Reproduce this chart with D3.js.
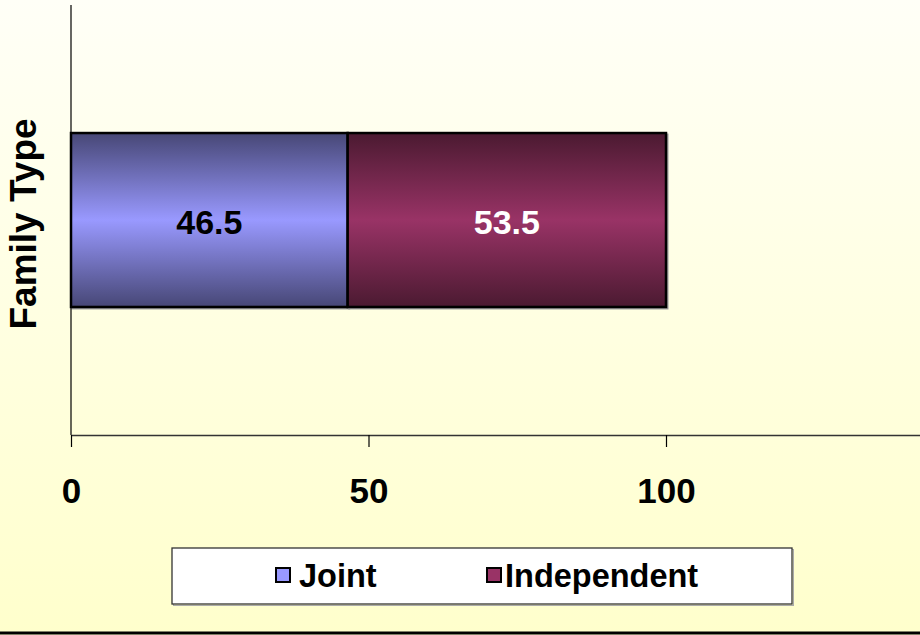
<!DOCTYPE html>
<html>
<head>
<meta charset="utf-8">
<script src="https://cdn.jsdelivr.net/npm/d3@7"></script>
<style>
  html, body { margin: 0; padding: 0; background: #fff; }
  svg { display: block; }
  text { font-family: "Liberation Sans", Arial, sans-serif; font-weight: bold; }
</style>
</head>
<body>
<svg id="chart" width="920" height="635"></svg>
<script>
// ---- data ----
const categories = ["Family Type"];
const seriesNames = ["Joint", "Independent"];
const jointValues = [46.5];
const independentValues = [53.5];
const xTicks = [0, 50, 100];
const xMax = 150;

const seriesColors = {
  Joint: { edge: "#474776", mid: "#9999ff", label: "#000000" },
  Independent: { edge: "#4b1a31", mid: "#993366", label: "#ffffff" }
};

const svg = d3.select("#chart");
const W = 920, H = 635;
const defs = svg.append("defs");

// background gradient
const bg = defs.append("linearGradient").attr("id", "bg")
  .attr("x1", 0).attr("y1", 0).attr("x2", 0).attr("y2", 1);
bg.append("stop").attr("offset", "0%").attr("stop-color", "#fffff7");
bg.append("stop").attr("offset", "100%").attr("stop-color", "#ffffcc");
svg.append("rect").attr("width", W).attr("height", H).attr("fill", "url(#bg)");

// bar gradients
seriesNames.forEach(s => {
  const g = defs.append("linearGradient").attr("id", "g_" + s)
    .attr("x1", 0).attr("y1", 0).attr("x2", 0).attr("y2", 1);
  g.append("stop").attr("offset", "0%").attr("stop-color", seriesColors[s].edge);
  g.append("stop").attr("offset", "50%").attr("stop-color", seriesColors[s].mid);
  g.append("stop").attr("offset", "100%").attr("stop-color", seriesColors[s].edge);
});

const plot = { left: 71, top: 5, bottom: 435 };
const x = d3.scaleLinear().domain([0, xMax]).range([plot.left, plot.left + (666 - 71) * 1.5]);
const y = d3.scaleBand().domain(categories).range([plot.top, plot.bottom])
  .paddingInner(0).paddingOuter(0.736);

// stacked data
const rows = categories.map((c, i) => ({ cat: c, Joint: jointValues[i], Independent: independentValues[i] }));
const stack = d3.stack().keys(seriesNames)(rows);

// bars
const layers = svg.append("g").selectAll("g").data(stack).join("g");
layers.selectAll("rect.shadow").data(d => d.map(v => ({ v, key: d.key })))
  .join("rect").attr("class", "shadow")
  .attr("x", d => x(d.v[0]) + 1.5)
  .attr("y", d => y(d.v.data.cat) + 1.5)
  .attr("width", d => x(d.v[1]) - x(d.v[0]))
  .attr("height", y.bandwidth())
  .attr("fill", "none").attr("stroke", "#999").attr("stroke-width", 2);
layers.selectAll("rect.bar").data(d => d.map(v => ({ v, key: d.key })))
  .join("rect").attr("class", "bar")
  .attr("x", d => x(d.v[0]))
  .attr("y", d => y(d.v.data.cat))
  .attr("width", d => x(d.v[1]) - x(d.v[0]))
  .attr("height", y.bandwidth())
  .attr("fill", d => "url(#g_" + d.key + ")")
  .attr("stroke", "#000").attr("stroke-width", 2.5);

// value labels
layers.selectAll("text").data(d => d.map(v => ({ v, key: d.key })))
  .join("text")
  .attr("x", d => (x(d.v[0]) + x(d.v[1])) / 2)
  .attr("y", d => y(d.v.data.cat) + y.bandwidth() / 2 + 14)
  .attr("text-anchor", "middle")
  .attr("font-size", 34)
  .attr("fill", d => seriesColors[d.key].label)
  .text(d => d3.format(".1f")(d.v[1] - d.v[0]));

// y axis line
svg.append("line").attr("x1", plot.left).attr("x2", plot.left)
  .attr("y1", plot.top).attr("y2", plot.bottom)
  .attr("stroke", "#000").attr("stroke-width", 1.2);

// x axis
const xAxis = d3.axisBottom(x).tickValues(xTicks).tickSize(12).tickPadding(20).tickSizeOuter(0);
const gx = svg.append("g").attr("transform", `translate(0,${plot.bottom})`).call(xAxis);
gx.select(".domain").attr("stroke", "#333").attr("stroke-width", 1.3);
gx.selectAll(".tick line").attr("stroke", "#000").attr("stroke-width", 1.2);
gx.selectAll(".tick text").attr("font-size", 35).attr("fill", "#000")
  .attr("font-family", '"Liberation Sans", Arial, sans-serif').attr("font-weight", "bold")
  .attr("dy", null).attr("y", 68);

// y axis title
svg.append("text")
  .attr("transform", "translate(36,224) rotate(-90)")
  .attr("text-anchor", "middle")
  .attr("font-size", 37)
  .attr("fill", "#000")
  .text(categories[0]);

// legend
const lg = svg.append("g");
lg.append("rect").attr("x", 173.5).attr("y", 549.5).attr("width", 620).attr("height", 56)
  .attr("fill", "none").attr("stroke", "#aaa").attr("stroke-width", 1);
lg.append("rect").attr("x", 172).attr("y", 548).attr("width", 620).attr("height", 56)
  .attr("fill", "#fff").attr("stroke", "#333").attr("stroke-width", 1.3);
const legendItems = [
  { name: seriesNames[0], sx: 276, tx: 299 },
  { name: seriesNames[1], sx: 487, tx: 505 }
];
const li = lg.selectAll("g.item").data(legendItems).join("g").attr("class", "item");
li.append("rect").attr("x", d => d.sx).attr("y", 568).attr("width", 14).attr("height", 14)
  .attr("fill", d => seriesColors[d.name].mid).attr("stroke", "#000").attr("stroke-width", 2);
li.append("text").attr("x", d => d.tx).attr("y", 587)
  .attr("font-size", 32.5).attr("fill", "#000").text(d => d.name);

// bottom border line
svg.append("line").attr("x1", 0).attr("x2", W).attr("y1", 633).attr("y2", 633)
  .attr("stroke", "#000").attr("stroke-width", 3);
</script>
</body>
</html>
